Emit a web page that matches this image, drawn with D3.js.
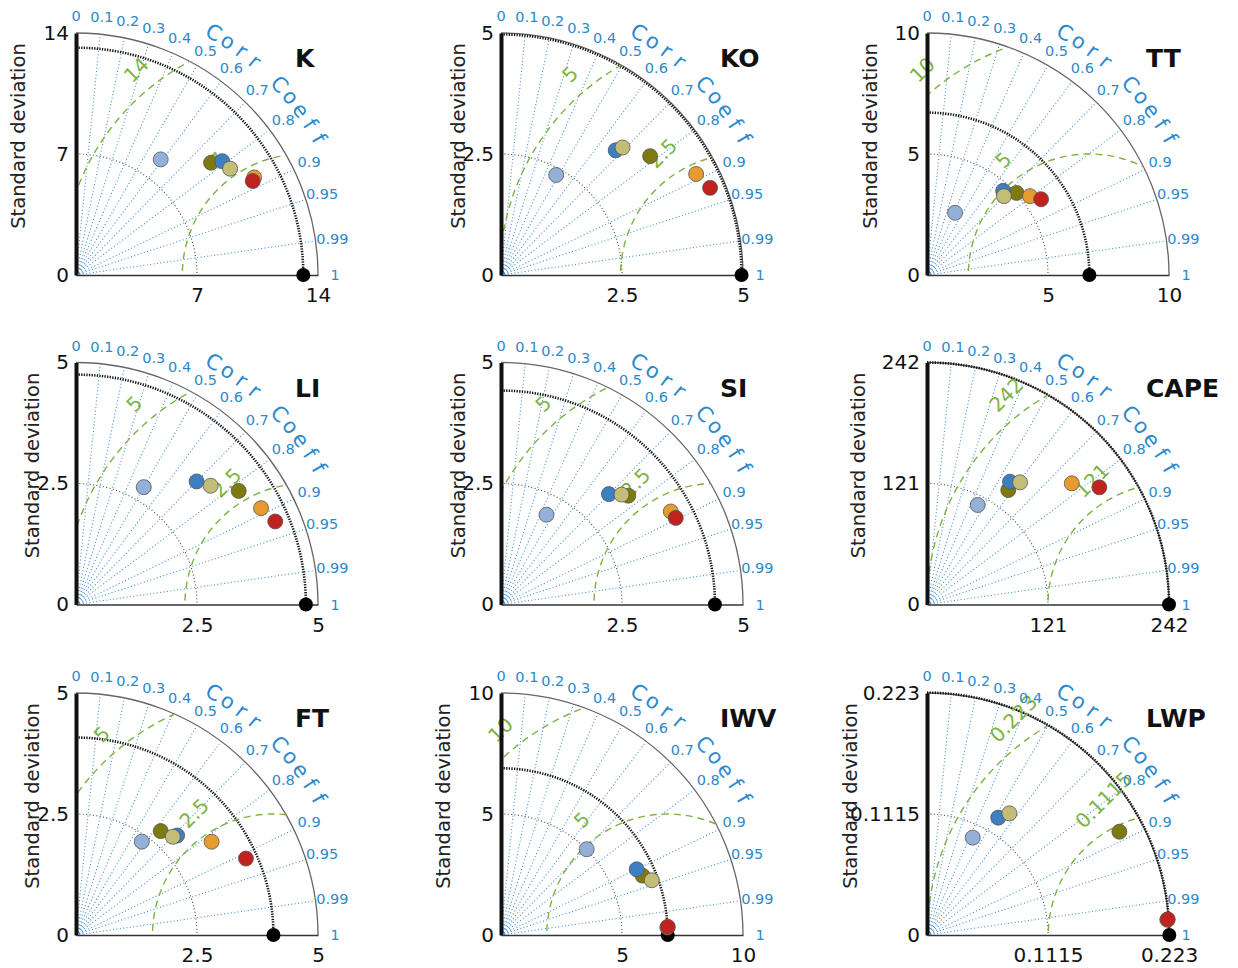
<!DOCTYPE html>
<html><head><meta charset="utf-8">
<script src="https://cdn.jsdelivr.net/npm/d3@7"></script>
<style>
body{margin:0;background:#fff}
svg text{font-family:"DejaVu Sans",sans-serif}
</style>
</head><body>
<svg id="chart" width="1238" height="968"></svg>
<script>
// ---------------- DATA ----------------
const panels   = ["K", "KO", "TT", "LI", "SI", "CAPE", "FT", "IWV", "LWP"];
const stdMax   = [14, 5, 10, 5, 5, 242, 5, 10, 0.223];
const stdMid   = [7, 2.5, 5, 2.5, 2.5, 121, 2.5, 5, 0.1115];
const tickLabels = [
  ["0","7","14"], ["0","2.5","5"], ["0","5","10"],
  ["0","2.5","5"], ["0","2.5","5"], ["0","121","242"],
  ["0","2.5","5"], ["0","5","10"], ["0","0.1115","0.223"]
];
const refStd   = [13.15, 4.97, 6.71, 4.75, 4.42, 242, 4.08, 6.89, 0.2233];
const corrTicks  = [0, 0.1, 0.2, 0.3, 0.4, 0.5, 0.6, 0.7, 0.8, 0.9, 0.95, 0.99, 1];
const corrRays   = [0.1, 0.2, 0.3, 0.4, 0.5, 0.6, 0.7, 0.8, 0.9, 0.95, 0.99];

// series (6 models), values per panel in the order of `panels`
const seriesNames  = ["Model A", "Model B", "Model C", "Model D", "Model E", "Model F"];
const seriesColors = ["#93b1d8", "#7d7b0e", "#3e7fc1", "#c3bd78", "#e89b2d", "#c0231f"];
const stdA  = [8.29, 2.36, 2.82, 2.80, 2.08, 111.7, 2.36, 5.01, 0.0991];
const corrA = [0.591, 0.483, 0.411, 0.500, 0.452, 0.454, 0.576, 0.707, 0.425];
const stdB  = [10.16, 3.94, 5.02, 4.10, 3.46, 140.4, 2.77, 6.34, 0.2012];
const corrB = [0.769, 0.782, 0.737, 0.820, 0.760, 0.579, 0.632, 0.922, 0.881];
const stdC  = [10.72, 3.50, 4.69, 3.56, 3.19, 148.2, 2.93, 6.23, 0.1265];
const corrC = [0.789, 0.677, 0.671, 0.700, 0.699, 0.560, 0.713, 0.900, 0.519];
const stdD  = [10.83, 3.64, 4.55, 3.71, 3.37, 153.6, 2.85, 6.63, 0.1354];
const corrD = [0.823, 0.690, 0.698, 0.750, 0.739, 0.606, 0.702, 0.940, 0.561];
const stdE  = [11.75, 4.54, 5.36, 4.31, 4.00, 188.8, 3.40, 6.88, 0.2219];
const corrE = [0.877, 0.888, 0.794, 0.887, 0.877, 0.767, 0.824, 0.999, 0.998];
const stdF  = [11.58, 4.68, 5.66, 4.46, 4.03, 208.4, 3.85, 6.90, 0.2223];
const corrF = [0.883, 0.923, 0.833, 0.923, 0.896, 0.827, 0.912, 0.9988, 0.9979];
const seriesStd  = [stdA, stdB, stdC, stdD, stdE, stdF];
const seriesCorr = [corrA, corrB, corrC, corrD, corrE, corrF];

// ---------------- LAYOUT ----------------
const originX = [76, 501, 927];
const originY = [275, 604.5, 935];
const R = 242;
const ylabelOffset = [58, 43, 57, 44, 43, 69, 44, 58, 77];
const BLUE = "#2c89cc", GREEN = "#7cb342";

const svg = d3.select("#chart");
svg.append("rect").attr("width",1238).attr("height",968).attr("fill","#fff");
const defs = svg.append("defs");

panels.forEach((name, p) => {
  const ox = originX[p % 3], oy = originY[Math.floor(p / 3)];
  const max = stdMax[p];
  const r = d3.scaleLinear().domain([0, max]).range([0, R]);
  const xs = d3.scaleLinear().domain([0, max]).range([ox, ox + R]);
  const ys = d3.scaleLinear().domain([0, max]).range([oy, oy - R]);
  const g = svg.append("g");

  const polar = (s, c) => [ox + r(s) * c, oy - r(s) * Math.sqrt(Math.max(0, 1 - c * c))];
  const quarterArc = rad => {
    const pth = d3.path();
    pth.moveTo(ox, oy - rad);
    pth.arc(ox, oy, rad, -Math.PI / 2, 0);
    return pth.toString();
  };

  // clip to quarter disc
  const cid = "clip" + p;
  defs.append("clipPath").attr("id", cid).append("path")
    .attr("d", `M${ox},${oy} L${ox},${oy - R} ` + quarterArc(R).replace(/^M[^A]*/, "") + ` L${ox},${oy} Z`);

  // correlation rays
  g.selectAll(".ray").data(corrRays).enter().append("line")
    .attr("x1", ox).attr("y1", oy)
    .attr("x2", c => polar(max, c)[0]).attr("y2", c => polar(max, c)[1])
    .attr("stroke", "#3d8fd6").attr("stroke-width", 1.1).attr("stroke-dasharray", "1,2.4");

  // mid std arc
  g.append("path").attr("d", quarterArc(r(stdMid[p]))).attr("fill", "none")
    .attr("stroke", "#444").attr("stroke-width", 1.1).attr("stroke-dasharray", "1,2.4");
  // outer arc
  g.append("path").attr("d", quarterArc(R)).attr("fill", "none")
    .attr("stroke", "#666").attr("stroke-width", 1.3);
  // reference std arc
  g.append("path").attr("d", quarterArc(r(refStd[p]))).attr("fill", "none")
    .attr("stroke", "#111").attr("stroke-width", 2.6).attr("stroke-dasharray", "1.3,1.3");

  // RMS circles
  const rmsVals = [stdMid[p], stdMax[p]];
  const rmsLabels = [tickLabels[p][1], tickLabels[p][2]];
  const cx = xs(refStd[p]);
  g.append("g").attr("clip-path", `url(#${cid})`)
    .selectAll("circle").data(rmsVals).enter().append("circle")
    .attr("cx", cx).attr("cy", oy).attr("r", d => r(d))
    .attr("fill", "none").attr("stroke", GREEN).attr("stroke-width", 1.4)
    .attr("stroke-dasharray", "7,5");
  rmsVals.forEach((v, i) => {
    const a = 135 * Math.PI / 180;
    const px = cx + r(v) * Math.cos(a) - 5, py = oy - r(v) * Math.sin(a) - 25;
    g.append("text").attr("transform", `translate(${px},${py}) rotate(-45)`)
      .attr("dy", "0.35em").attr("text-anchor", "start")
      .attr("font-size", 20).attr("fill", GREEN).text(rmsLabels[i]);
  });

  // axes
  const ya = g.append("g").attr("transform", `translate(${ox},0)`)
    .call(d3.axisLeft(ys).tickValues([0, stdMid[p], max]).tickFormat((d, i) => tickLabels[p][i])
      .tickSize(0).tickPadding(7));
  ya.select(".domain").attr("stroke", "#111").attr("stroke-width", 4);
  ya.selectAll("text").attr("font-size", 20).attr("fill", "#111").attr("font-family", "DejaVu Sans");

  const xa = g.append("g").attr("transform", `translate(0,${oy})`)
    .call(d3.axisBottom(xs).tickValues([stdMid[p], max]).tickFormat((d, i) => tickLabels[p][i + 1])
      .tickSize(0).tickPadding(13));
  xa.select(".domain").attr("stroke", "#333").attr("stroke-width", 1.5);
  xa.selectAll("text").attr("font-size", 20).attr("fill", "#111").attr("font-family", "DejaVu Sans");

  // y label
  g.append("text").attr("transform", `translate(${ox - ylabelOffset[p]},${oy - 139}) rotate(-90)`)
    .attr("text-anchor", "middle").attr("dy", "0.35em").attr("font-size", 19.5).attr("fill", "#222")
    .text("Standard deviation");

  // correlation tick labels
  g.selectAll(".ct").data(corrTicks).enter().append("text")
    .attr("x", c => ox + (R + 17) * c)
    .attr("y", c => oy - (R + 17) * Math.sqrt(1 - c * c))
    .attr("text-anchor", "middle").attr("dy", "0.35em")
    .attr("font-size", 14.5).attr("fill", BLUE).text(c => String(c));

  // "Corr Coeff" along arc
  const chars = "Corr Coeff".split("");
  chars.forEach((ch, k) => {
    if (ch === " ") return;
    const th = 60.4 - 3.45 * k;
    const tr = th * Math.PI / 180;
    const px = ox + (R + 37) * Math.cos(tr), py = oy - (R + 37) * Math.sin(tr);
    g.append("text").attr("transform", `translate(${px},${py}) rotate(${90 - th})`)
      .attr("text-anchor", "middle").attr("dy", "0.35em")
      .attr("font-size", 21).attr("fill", BLUE).text(ch);
  });

  // title
  g.append("text").attr("x", ox + 219).attr("y", oy - 208).attr("font-size", 25)
    .attr("font-weight", "bold").attr("fill", "#111").text(name);

  // reference point
  g.append("circle").attr("cx", xs(refStd[p])).attr("cy", oy).attr("r", 7).attr("fill", "#000");

  // model markers
  const pts = seriesNames.map((s, i) => ({ s, color: seriesColors[i], std: seriesStd[i][p], corr: seriesCorr[i][p] }));
  g.selectAll(".m").data(pts).enter().append("circle")
    .attr("cx", d => polar(d.std, d.corr)[0]).attr("cy", d => polar(d.std, d.corr)[1])
    .attr("r", 7.5).attr("fill", d => d.color).attr("stroke", "#555").attr("stroke-width", 0.8);
});
</script>
</body></html>
